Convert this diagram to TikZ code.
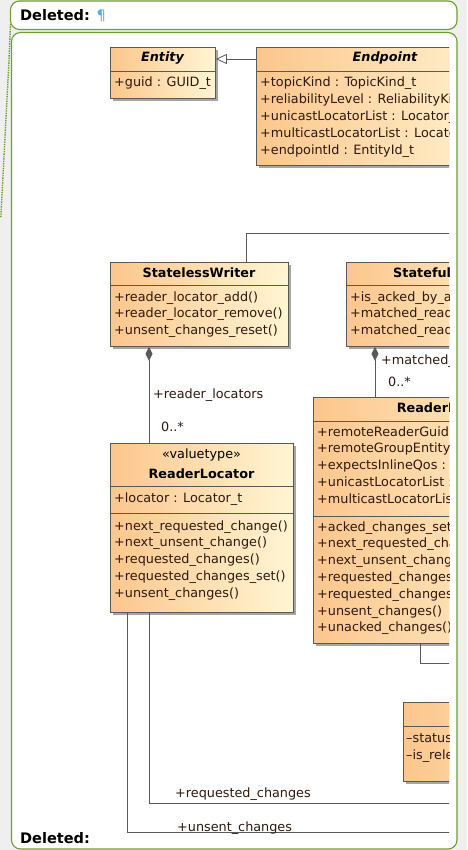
\documentclass[tikz,border=0pt]{standalone}
\usepackage{fontspec}
\setmainfont{DejaVu Sans}
\usetikzlibrary{arrows.meta,shadows}

\definecolor{clsA}{HTML}{FCC68D}
\definecolor{clsB}{HTML}{FFF6D4}
\definecolor{boxline}{HTML}{595959}
\definecolor{txt}{HTML}{2E1A0E}
\definecolor{balloon}{HTML}{6F9E2E}
\definecolor{pilcrow}{HTML}{58ACE6}
\definecolor{margin}{HTML}{EFEFEF}

\newcommand{\umlfont}{\fontsize{12.8}{15}\selectfont}
\newcommand{\notefont}{\fontsize{14.5}{17}\selectfont}

\begin{document}
\begin{tikzpicture}[x=1pt,y=-1pt,
	cls/.style={draw=boxline, line width=0.8pt, left color=clsA, right color=clsB,
		anchor=north west, inner sep=0pt,
		drop shadow={shadow xshift=3pt, shadow yshift=-3pt, fill=black!35, opacity=1}},
	sep/.style={draw=boxline, line width=0.8pt},
	ttl/.style={font=\umlfont\bfseries, text=black, inner sep=0pt, text height=9pt, text depth=3pt},
	absttl/.style={ttl, font=\umlfont\bfseries\itshape},
	mbr/.style={font=\umlfont, text=txt, anchor=west, inner sep=0pt, text height=9pt, text depth=3pt},
	lnk/.style={draw=boxline, line width=0.8pt},
	comp/.style={lnk, {Diamond[length=14pt,width=7pt]}-},
	gen/.style={lnk, -{Triangle[open,length=11pt,width=10pt]}},
	note/.style={rounded corners=9pt, draw=balloon, line width=1.1pt, fill=white}]
	
	\useasboundingbox (0,0) rectangle (467,850);
	\fill[margin] (0,0) rectangle (467,850);
	
	% Kommentar-Sprechblasen
	\draw[balloon, line width=1.4pt, densely dotted] (10.5,24) -- (9,60) -- (0.8,218);
	\draw[note] (10.5,1) rectangle (457,29.5);
	\draw[note] (11.5,32.5) rectangle (457,849);
	\node[anchor=west, font=\notefont\bfseries, inner sep=0pt] (del-top) at (20,16)
	{Deleted: {\mdseries\color{pilcrow}¶}};
	
	\begin{scope}
		\clip (12.5,34) rectangle (449,848);
		
		% Entity (abstrakt)
		\node[cls, minimum width=105, minimum height=51] (entity) at (110,47) {};
		\node[absttl] (entity-ttl) at (162.5,59) {Entity};
		\draw[sep] (entity.west |- 0,71) -- (entity.east |- 0,71);
		\node[mbr] (entity-a1) at (114,84) {+guid : GUID\_t};
		
		% Endpoint (abstrakt)
		\node[cls, minimum width=258, minimum height=118] (endpoint) at (256,47) {};
		\node[absttl] (endpoint-ttl) at (385,59) {Endpoint};
		\draw[sep] (endpoint.west |- 0,71) -- (endpoint.east |- 0,71);
		\foreach \lbl [count=\i] in {{+topicKind : TopicKind\_t},
			{+reliabilityLevel : ReliabilityKind\_t},
			{+unicastLocatorList : Locator\_t[*]},
			{+multicastLocatorList : Locator\_t[*]},
			{+endpointId : EntityId\_t}}
		\node[mbr] (endpoint-a\i) at (260,{84+17*(\i-1)}) {\lbl};
		
		% StatelessWriter
		\node[cls, minimum width=178, minimum height=84] (slw) at (110,262) {};
		\node[ttl] (slw-ttl) at (199,274) {StatelessWriter};
		\draw[sep] (slw.west |- 0,285) -- (slw.east |- 0,285);
		\foreach \lbl [count=\i] in {{+reader\_locator\_add()},
			{+reader\_locator\_remove()},
			{+unsent\_changes\_reset()}}
		\node[mbr] (slw-m\i) at (114,{298+16.8*(\i-1)}) {\lbl};
		
		% StatefulWriter
		\node[cls, minimum width=198, minimum height=84] (sfw) at (346,262) {};
		\node[ttl] (sfw-ttl) at (445,274) {StatefulWriter};
		\draw[sep] (sfw.west |- 0,285) -- (sfw.east |- 0,285);
		\foreach \lbl [count=\i] in {{+is\_acked\_by\_all()},
			{+matched\_reader\_add()},
			{+matched\_reader\_remove()}}
		\node[mbr] (sfw-m\i) at (350,{298+16.8*(\i-1)}) {\lbl};
		
		% ReaderLocator
		\node[cls, minimum width=183, minimum height=169] (rl) at (110,443) {};
		\node[mbr, anchor=center, text=black] (rl-st) at (201.5,455) {«valuetype»};
		\node[ttl] (rl-ttl) at (201.5,475) {ReaderLocator};
		\draw[sep] (rl.west |- 0,486) -- (rl.east |- 0,486);
		\node[mbr] (rl-a1) at (114,499) {+locator : Locator\_t};
		\draw[sep] (rl.west |- 0,513) -- (rl.east |- 0,513);
		\foreach \lbl [count=\i] in {{+next\_requested\_change()},
			{+next\_unsent\_change()},
			{+requested\_changes()},
			{+requested\_changes\_set()},
			{+unsent\_changes()}}
		\node[mbr] (rl-m\i) at (114,{527+16.75*(\i-1)}) {\lbl};
		
		% ReaderProxy
		\node[cls, minimum width=260, minimum height=246] (rp) at (313,397) {};
		\node[ttl] (rp-ttl) at (443,409) {ReaderProxy};
		\draw[sep] (rp.west |- 0,421) -- (rp.east |- 0,421);
		\foreach \lbl [count=\i] in {{+remoteReaderGuid : GUID\_t},
			{+remoteGroupEntityId : EntityId\_t},
			{+expectsInlineQos : bool},
			{+unicastLocatorList : Locator\_t[*]},
			{+multicastLocatorList : Locator\_t[*]}}
		\node[mbr] (rp-a\i) at (317,{433+16.75*(\i-1)}) {\lbl};
		\draw[sep] (rp.west |- 0,516) -- (rp.east |- 0,516);
		\foreach \lbl [count=\i] in {{+acked\_changes\_set()},
			{+next\_requested\_change()},
			{+next\_unsent\_change()},
			{+requested\_changes()},
			{+requested\_changes\_set()},
			{+unsent\_changes()},
			{+unacked\_changes()}}
		\node[mbr] (rp-m\i) at (317,{528+16.8*(\i-1)}) {\lbl};
		
		% ChangeForReader (rechts abgeschnitten)
		\node[cls, minimum width=250, minimum height=79] (cfr) at (403,702) {};
		\draw[sep] (cfr.west |- 0,726) -- (cfr.east |- 0,726);
		\node[mbr] (cfr-a1) at (406,739) {–status : ChangeForReaderStatusKind};
		\node[mbr] (cfr-a2) at (406,756) {–is\_relevant : bool};
		
		% Verbindungen
		\draw[gen] (endpoint.west |- entity-ttl) -- (entity.east |- entity-ttl);
		
		\coordinate (writer-end) at (470,233);
		\draw[lnk] ([xshift=136pt]slw.north west) |- (writer-end);
		
		\draw[comp] ([xshift=39pt]slw.south west) -- ([xshift=39pt]rl.north west);
		\node[mbr] (rl-role) at (153,395) {+reader\_locators};
		\node[mbr] (rl-mult) at (161,428) {0..*};
		
		\draw[comp] ([xshift=29pt]sfw.south west) -- ([xshift=62pt]rp.north west);
		\node[mbr] (rp-role) at (381,361) {+matched\_readers};
		\node[mbr] (rp-mult) at (388,383) {0..*};
		
		\coordinate (cfr-end) at (470,663);
		\draw[lnk] ([xshift=107pt]rp.south west) |- (cfr-end);
		
		\coordinate (req-end) at (470,803);
		\draw[lnk] ([xshift=39pt]rl.south west) |- (req-end);
		\node[mbr] (req-role) at (175,794) {+requested\_changes};
		
		\coordinate (uns-end) at (470,832);
		\draw[lnk] ([xshift=17pt]rl.south west) |- (uns-end);
		\node[mbr] (uns-role) at (177,828) {+unsent\_changes};
	\end{scope}
	
	\node[anchor=west, font=\notefont\bfseries, inner sep=0pt] (del-bot) at (20,838) {Deleted:};
	
\end{tikzpicture}
\end{document}
